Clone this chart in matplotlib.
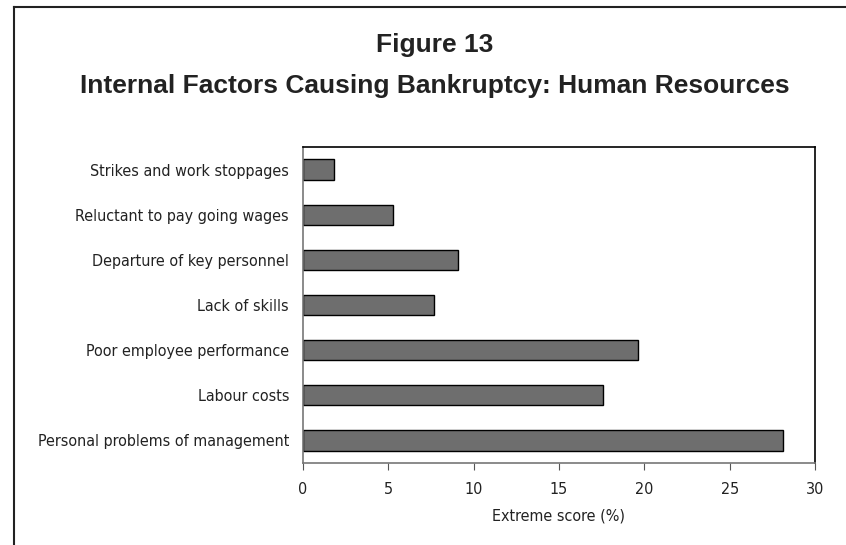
import matplotlib
matplotlib.use("Agg")
import matplotlib.pyplot as plt
from matplotlib import font_manager
from matplotlib.lines import Line2D

categories = [
    "Personal problems of management",
    "Labour costs",
    "Poor employee performance",
    "Lack of skills",
    "Departure of key personnel",
    "Reluctant to pay going wages",
    "Strikes and work stoppages",
]
scores = [28.1, 17.6, 19.6, 7.7, 9.1, 5.3, 1.8]
xticks = [0, 5, 10, 15, 20, 25, 30]

# condensed face for the axis text (the original uses a narrow sans)
cond = [f for f in font_manager.fontManager.ttflist
        if f.name == "DejaVu Sans" and "ondensed" in f.fname]
if cond:
    lab_font = dict(family="DejaVu Sans", stretch="condensed", fontsize=11.5, color="#222222")
else:
    lab_font = dict(family="Liberation Sans", fontsize=11, color="#222222")

fig = plt.figure(figsize=(8.46, 5.45), dpi=100)
ax = fig.add_axes([303 / 846, 1 - 463 / 545, (815 - 303) / 846, (463 - 147) / 545])

ax.barh(range(len(categories)), scores, height=0.45, color="#6e6e6e",
        edgecolor="black", linewidth=1.0)
ax.set_ylim(-0.5, 6.5)
ax.set_xlim(0, 30)
ax.set_xticks(xticks)
ax.set_xticklabels([str(t) for t in xticks], **lab_font)
ax.set_yticks(range(len(categories)))
ax.set_yticklabels(categories, **lab_font)
ax.tick_params(axis="y", length=0, pad=10)
ax.tick_params(axis="x", length=5, color="#555555", pad=9)
ax.set_xlabel("Extreme score (%)", labelpad=8, **lab_font)

ax.spines["left"].set_color("#777777")
ax.spines["bottom"].set_color("#777777")
ax.spines["top"].set_color("black")
ax.spines["right"].set_color("black")
for s in ax.spines.values():
    s.set_linewidth(1.2)

fig.text(435 / 846, 1 - 45 / 545, "Figure 13", ha="center", va="center",
         family="Liberation Sans", weight="bold", fontsize=19, color="#222222")
fig.text(435 / 846, 1 - 86 / 545, "Internal Factors Causing Bankruptcy: Human Resources",
         ha="center", va="center", family="Liberation Sans", weight="bold",
         fontsize=19, color="#222222")

# outer frame (left and top only are visible in the reference)
fig.add_artist(Line2D([14 / 846, 14 / 846], [0, 1 - 7 / 545], color="#222222", lw=1.5))
fig.add_artist(Line2D([14 / 846, 1], [1 - 7 / 545, 1 - 7 / 545], color="#222222", lw=1.5))

fig.savefig("out.png", dpi=100)
